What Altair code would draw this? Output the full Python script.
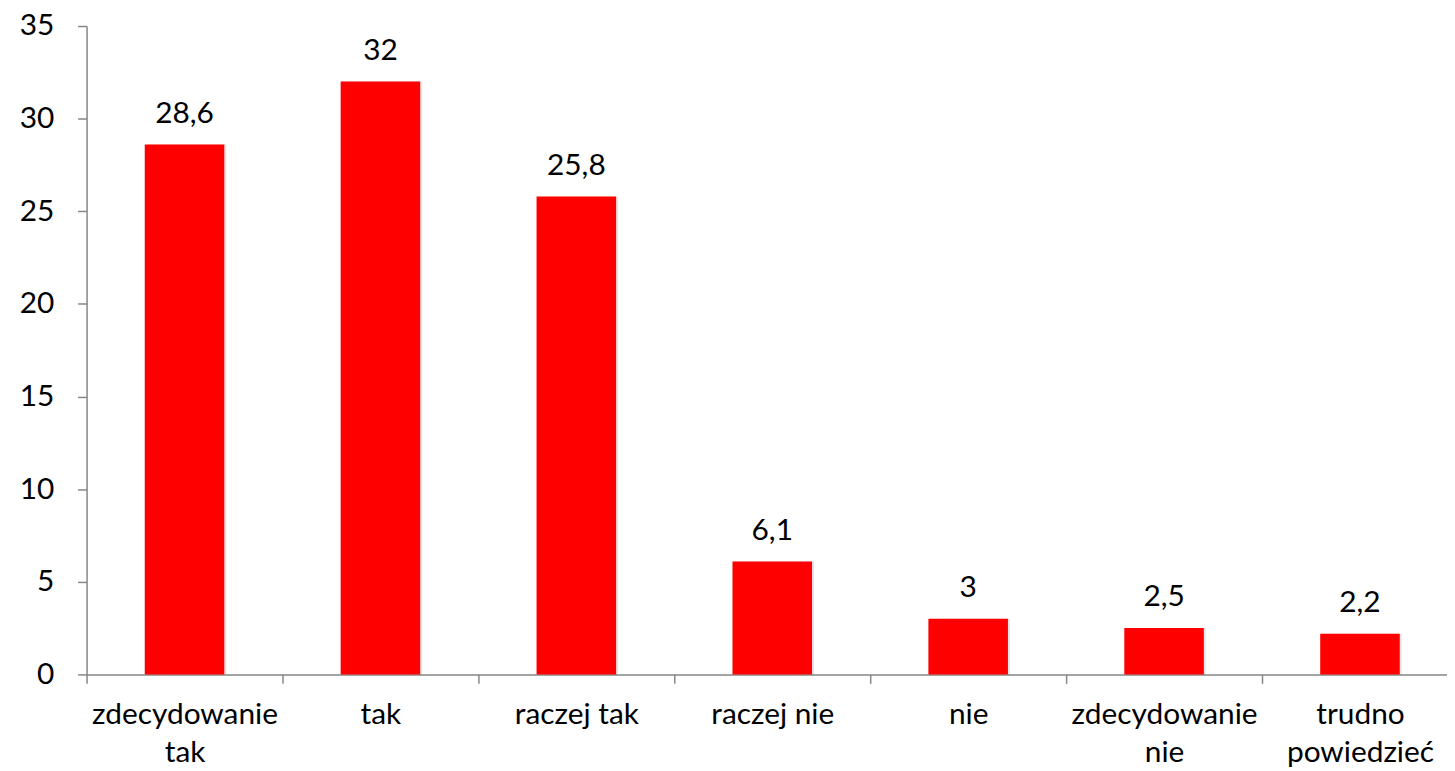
import altair as alt
import pandas as pd

categories = ["zdecydowanie tak", "tak", "raczej tak", "raczej nie", "nie",
              "zdecydowanie nie", "trudno powiedzieć"]
values = [28.6, 32, 25.8, 6.1, 3, 2.5, 2.2]
y_ticks = [0, 5, 10, 15, 20, 25, 30, 35]

df = pd.DataFrame({"kategoria": categories, "wartosc": values})

FONT = "Lato"
FS = 30
AXIS_COLOR = "#868686"
BAR_W = 80

x = alt.X(
    "kategoria:N",
    sort=categories,
    title=None,
    scale=alt.Scale(paddingInner=0, paddingOuter=0),
    axis=alt.Axis(
        labelAngle=0,
        tickBand="extent",
        tickSize=9,
        tickWidth=1.5,
        tickColor=AXIS_COLOR,
        domainColor=AXIS_COLOR,
        domainWidth=1.5,
        labelFont=FONT,
        labelFontSize=FS,
        labelColor="#000000",
        labelPadding=16,
        labelLineHeight=39,
        labelLimit=0,
        labelExpr="length(datum.label) > 12 ? split(datum.label, ' ') : datum.label",
    ),
)
y = alt.Y(
    "wartosc:Q",
    title=None,
    scale=alt.Scale(domain=[0, 35], nice=False),
    axis=alt.Axis(
        values=y_ticks,
        grid=False,
        tickSize=9,
        tickWidth=1.5,
        tickColor=AXIS_COLOR,
        domainColor=AXIS_COLOR,
        domainWidth=1.5,
        labelFont=FONT,
        labelFontSize=FS,
        labelColor="#000000",
        labelPadding=24,
    ),
)

base = alt.Chart(df)

shadow = base.mark_bar(color="#000000", opacity=0.10, xOffset=2, width=BAR_W).encode(x=x, y=y)
bars = base.mark_bar(color="#ff0000", width=BAR_W).encode(x=x, y=y)
text = base.transform_calculate(
    etykieta="replace(toString(datum.wartosc), '.', ',')"
).mark_text(
    font=FONT, fontSize=FS, color="#000000", baseline="alphabetic", dy=-22
).encode(x=x, y=y, text="etykieta:N")

chart = alt.layer(shadow, bars, text).properties(
    width=1379,
    height=652,
    padding={"left": 79, "top": 16, "right": -11, "bottom": 95},
    autosize=alt.AutoSizeParams(type="none"),
).configure_view(stroke=None)

chart.save("out.html", embed_options={"renderer": "svg", "actions": False})
